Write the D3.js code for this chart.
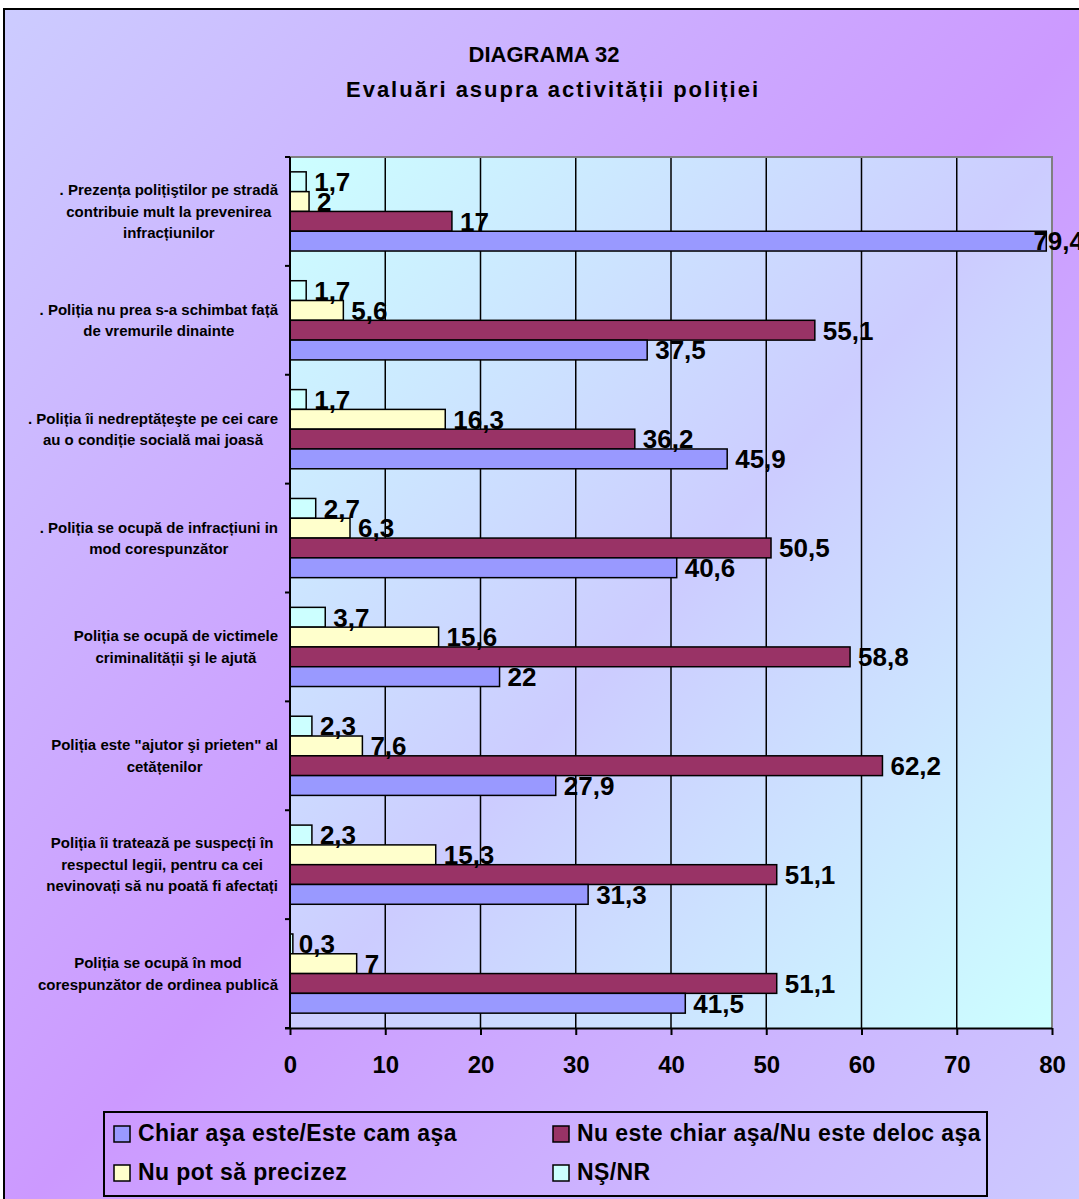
<!DOCTYPE html>
<html>
<head>
<meta charset="utf-8">
<script src="https://cdn.jsdelivr.net/npm/d3@7/dist/d3.min.js"></script>
<style>
  html, body { margin: 0; padding: 0; background: #ffffff; }
  svg { display: block; }
  text { font-family: "Liberation Sans", Arial, sans-serif; font-weight: bold; fill: #000; }
</style>
</head>
<body>
<svg id="chart" width="1079" height="1199"></svg>
<script>
// ---------- data ----------
const categories = [
  [". Prezența polițiştilor pe stradă", "contribuie mult la prevenirea", "infracțiunilor"],
  [". Poliția nu prea s-a schimbat față", "de vremurile dinainte"],
  [". Poliția îi nedreptățeşte pe cei care", "au o condiție socială mai joasă"],
  [". Poliția se ocupă de infracțiuni in", "mod corespunzător"],
  ["Poliția se ocupă de victimele", "criminalității şi le ajută"],
  ["Poliția este \"ajutor şi prieten\" al", "cetățenilor"],
  ["Poliția îi tratează pe suspecți în", "respectul legii, pentru ca cei", "nevinovați să nu poată fi afectați"],
  ["Poliția se ocupă în mod", "corespunzător de ordinea publică"]
];
const seriesNames = ["NŞ/NR", "Nu pot să precizez", "Nu este chiar aşa/Nu este deloc aşa", "Chiar aşa este/Este cam aşa"];
const seriesColors = ["#ccffff", "#ffffcc", "#993366", "#9999ff"];
const nsnr      = [1.7, 1.7, 1.7, 2.7, 3.7, 2.3, 2.3, 0.3];
const nuPot     = [2, 5.6, 16.3, 6.3, 15.6, 7.6, 15.3, 7];
const nuEste    = [17, 55.1, 36.2, 50.5, 58.8, 62.2, 51.1, 51.1];
const chiarAsa  = [79.4, 37.5, 45.9, 40.6, 22, 27.9, 31.3, 41.5];
const seriesValues = [nsnr, nuPot, nuEste, chiarAsa];
const xTicks = [0, 10, 20, 30, 40, 50, 60, 70, 80];
const titleLines = ["DIAGRAMA 32", "Evaluări asupra activității poliției"];
// legend order (row-major, two columns)
const legendOrder = [3, 2, 1, 0];

// ---------- layout ----------
const svg = d3.select("#chart");
const plot = { left: 290, right: 1052, top: 157, bottom: 1028 };
const chartRight = 1084;

const defs = svg.append("defs");
const bg = defs.append("linearGradient").attr("id", "bgGrad")
  .attr("x1", 0).attr("y1", 0).attr("x2", 1).attr("y2", 1);
bg.append("stop").attr("offset", 0).attr("stop-color", "#ccccff");
bg.append("stop").attr("offset", 0.5).attr("stop-color", "#cc99ff");
bg.append("stop").attr("offset", 1).attr("stop-color", "#ccccff");

const pg = defs.append("linearGradient").attr("id", "plotGrad")
  .attr("x1", 0).attr("y1", 0).attr("x2", 1).attr("y2", 1);
pg.append("stop").attr("offset", 0).attr("stop-color", "#ccffff");
pg.append("stop").attr("offset", 0.5).attr("stop-color", "#ccccff");
pg.append("stop").attr("offset", 1).attr("stop-color", "#ccffff");

// outer chart area
svg.append("rect").attr("x", 4).attr("y", 9).attr("width", 1100).attr("height", 1220)
  .attr("fill", "url(#bgGrad)").attr("stroke", "#000").attr("stroke-width", 2);

// title
svg.append("text").attr("x", 544).attr("y", 62).attr("text-anchor", "middle")
  .attr("font-size", 22).text(titleLines[0]);
svg.append("text").attr("x", 552).attr("y", 97).attr("text-anchor", "middle")
  .attr("font-size", 22).attr("textLength", 412).attr("lengthAdjust", "spacing").text(titleLines[1]);

// scales
const x = d3.scaleLinear().domain([0, 80]).range([plot.left, plot.right]);
const idx = d3.range(categories.length);
const y = d3.scaleBand().domain(idx).range([plot.top, plot.bottom]).paddingInner(0).paddingOuter(0);
const yInner = d3.scaleBand().domain(d3.range(seriesNames.length)).range([0, y.bandwidth()])
  .paddingInner(0).paddingOuter(0.75);

// plot background
svg.append("rect").attr("x", plot.left).attr("y", plot.top)
  .attr("width", plot.right - plot.left).attr("height", plot.bottom - plot.top)
  .attr("fill", "url(#plotGrad)");

// gridlines
svg.append("g").selectAll("line").data(xTicks.filter(v => v > 0 && v < 80)).join("line")
  .attr("x1", d => x(d)).attr("x2", d => x(d))
  .attr("y1", plot.top).attr("y2", plot.bottom)
  .attr("stroke", "#000").attr("stroke-width", 1.5);

// plot border (top/right grey)
svg.append("path")
  .attr("d", `M${plot.left},${plot.top}H${plot.right}V${plot.bottom}`)
  .attr("fill", "none").attr("stroke", "#808080").attr("stroke-width", 2);

// bars
const rows = [];
idx.forEach(i => seriesValues.forEach((vals, s) => rows.push({ i, s, v: vals[i] })));
svg.append("g").selectAll("rect").data(rows).join("rect")
  .attr("x", x(0))
  .attr("y", d => y(d.i) + yInner(d.s))
  .attr("width", d => x(d.v) - x(0))
  .attr("height", yInner.bandwidth())
  .attr("fill", d => seriesColors[d.s])
  .attr("stroke", "#000").attr("stroke-width", 1.5);

// x axis
const xAxis = d3.axisBottom(x).tickValues(xTicks).tickSize(7).tickFormat(d3.format("d"));
const gx = svg.append("g").attr("transform", `translate(0,${plot.bottom})`).call(xAxis);
gx.select(".domain").attr("stroke", "#000").attr("stroke-width", 2).attr("d", `M${plot.left - 5},0.5H${plot.right}`);
gx.selectAll(".tick line").attr("stroke", "#000").attr("stroke-width", 2);
gx.selectAll(".tick text").attr("font-size", 24).attr("y", 0).attr("dy", 45)
  .attr("font-family", "'Liberation Sans', Arial, sans-serif").attr("font-weight", "bold").attr("fill", "#000");

// y axis (ticks at category boundaries)
const bounds = idx.map(i => y(i)).concat([plot.bottom]);
const gy = svg.append("g");
gy.append("line").attr("x1", plot.left).attr("x2", plot.left).attr("y1", plot.top).attr("y2", plot.bottom)
  .attr("stroke", "#000").attr("stroke-width", 2);
gy.selectAll("line.tk").data(bounds).join("line").attr("class", "tk")
  .attr("x1", plot.left - 5).attr("x2", plot.left).attr("y1", d => d).attr("y2", d => d)
  .attr("stroke", "#000").attr("stroke-width", 2);

// data labels (drawn after axes so they sit on top)
const fmt = v => String(v).replace(".", ",");
svg.append("g").selectAll("text").data(rows).join("text")
  .attr("y", d => y(d.i) + yInner(d.s) + yInner.bandwidth() / 2 + 9.3)
  .attr("font-size", 26)
  .text(d => fmt(d.v))
  .attr("x", function (d) {
    const w = this.getComputedTextLength();
    const base = x(d.v) + (d.v < 1 ? 6 : 8);
    return Math.min(base, chartRight - w);
  });

// category labels: lines centred in a box right-aligned to x = 278
const lh = 21.5;
const boxRight = 278;
const maxLine = 252;
const catG = svg.append("g");
categories.forEach((lines, i) => {
  const cy = y(i) + y.bandwidth() / 2;
  const t = catG.append("text").attr("text-anchor", "middle").attr("font-size", 15);
  const spans = lines.map((ln, k) => t.append("tspan")
    .attr("y", cy + (k - (lines.length - 1) / 2) * lh + 5.3)
    .text(ln));
  let wMax = 0;
  spans.forEach(sp => {
    let w = sp.node().getComputedTextLength();
    if (w > maxLine) { sp.attr("textLength", maxLine).attr("lengthAdjust", "spacingAndGlyphs"); w = maxLine; }
    wMax = Math.max(wMax, w);
  });
  spans.forEach(sp => sp.attr("x", boxRight - wMax / 2));
});

// legend
const leg = svg.append("g");
leg.append("rect").attr("x", 104).attr("y", 1112).attr("width", 883).attr("height", 84)
  .attr("fill", "none").attr("stroke", "#000").attr("stroke-width", 2);
const legPos = [[114, 1126], [553, 1126], [114, 1165], [553, 1165]];
legendOrder.forEach((s, k) => {
  const [lx, ly] = legPos[k];
  leg.append("rect").attr("x", lx).attr("y", ly).attr("width", 16).attr("height", 16)
    .attr("fill", seriesColors[s]).attr("stroke", "#000").attr("stroke-width", 1.5);
  leg.append("text").attr("x", lx + 24).attr("y", ly + 15).attr("font-size", 23)
    .attr("letter-spacing", 0.4).text(seriesNames[s]);
});
</script>
</body>
</html>
